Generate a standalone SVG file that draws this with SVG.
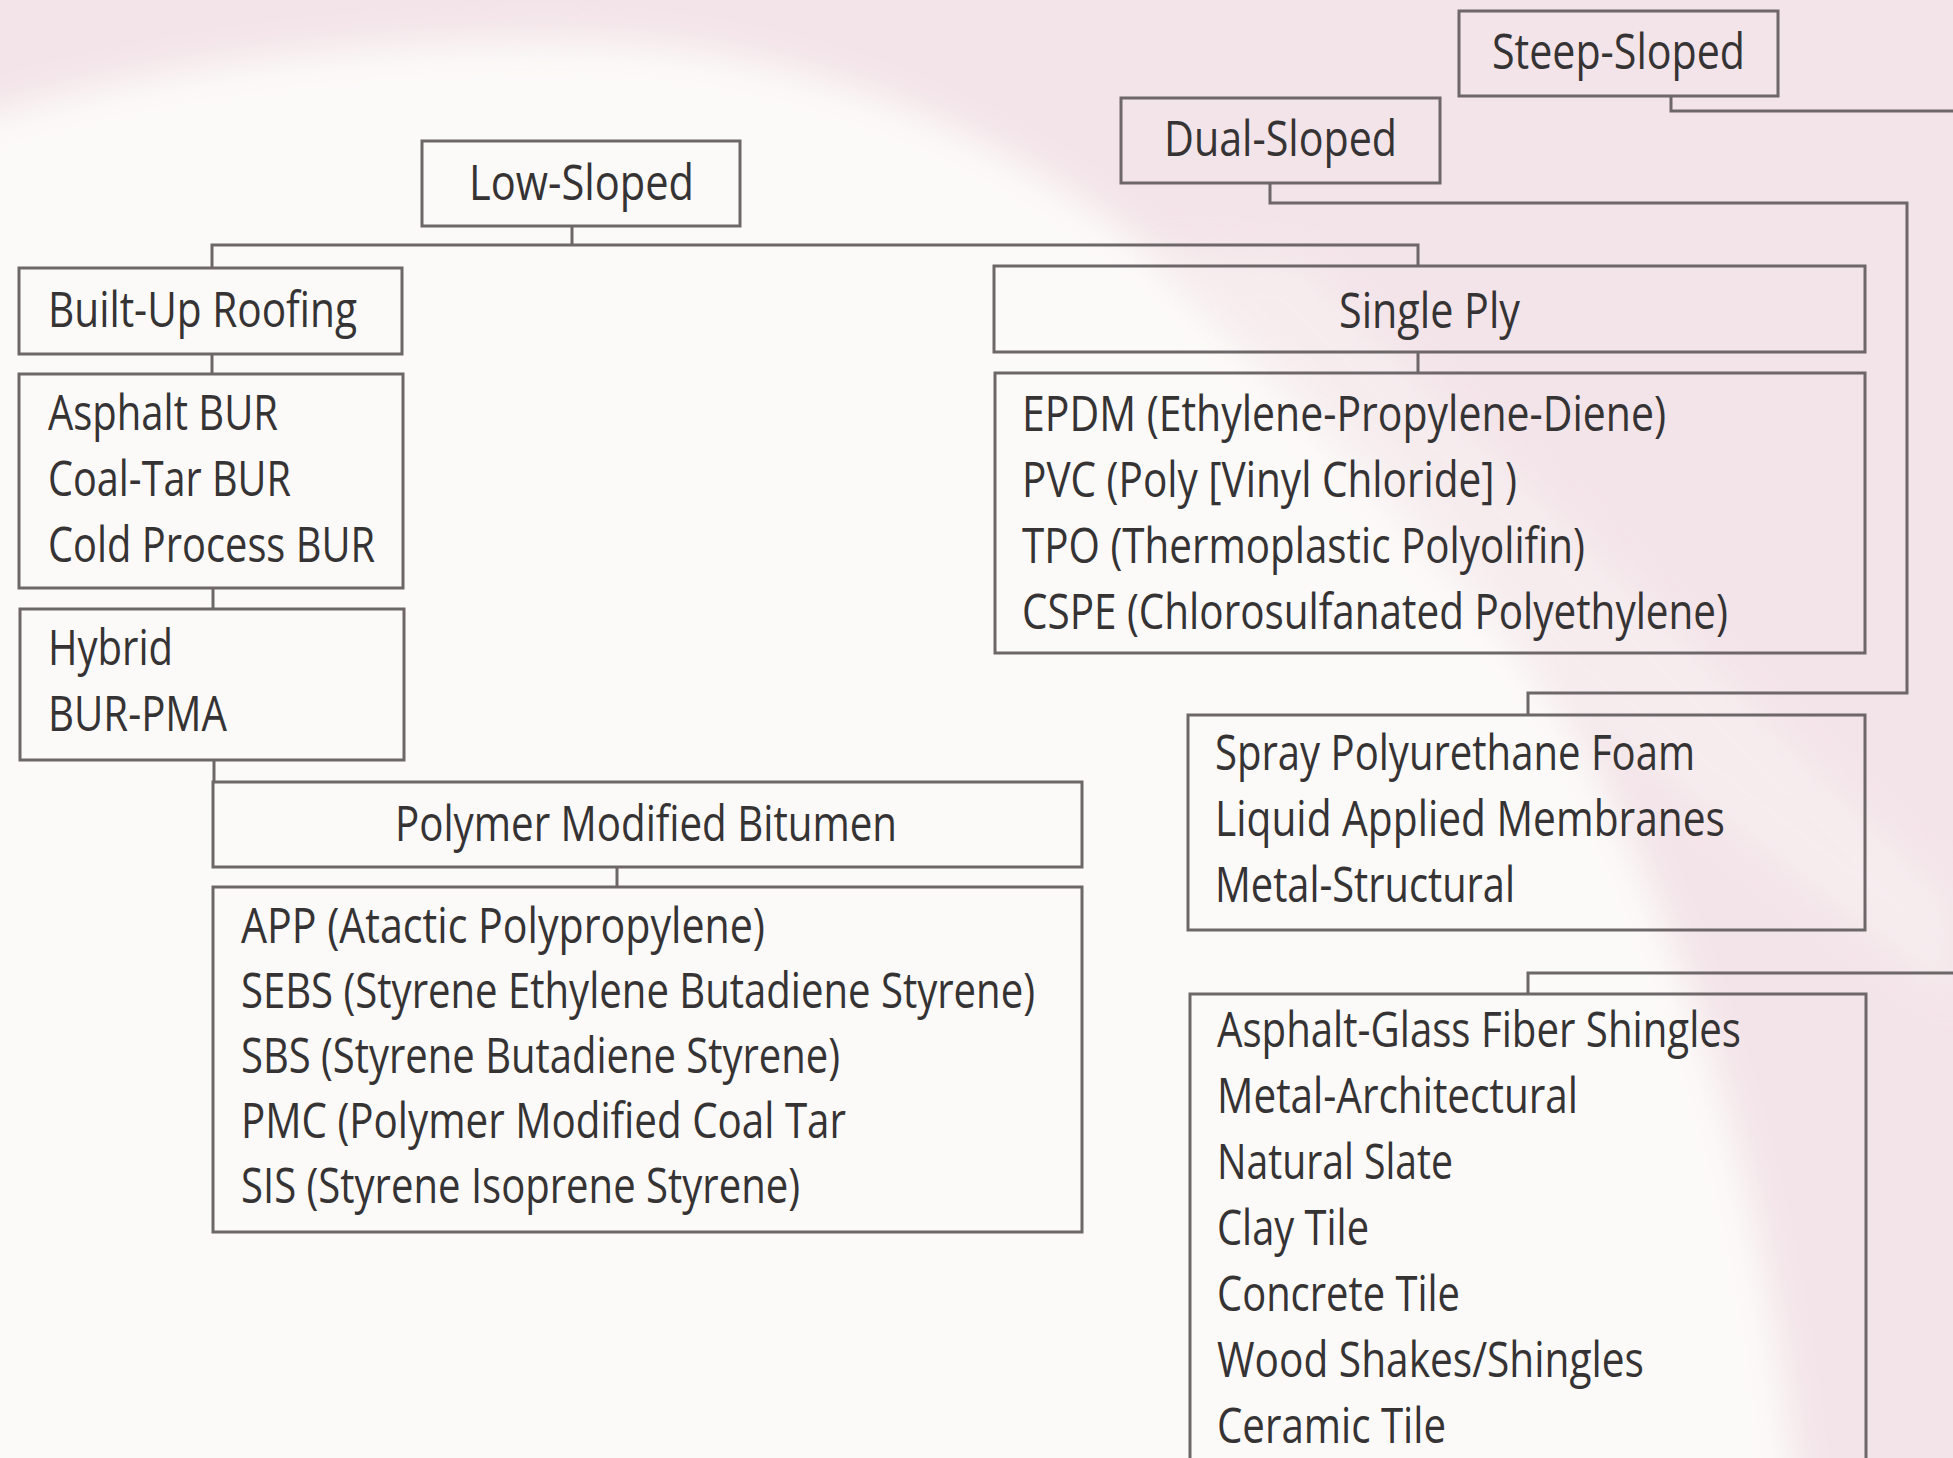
<svg xmlns="http://www.w3.org/2000/svg" width="1953" height="1458" viewBox="0 0 1953 1458">
  <defs>
    <filter id="soft" x="-10%" y="-10%" width="120%" height="120%">
      <feGaussianBlur stdDeviation="18"/>
    </filter>
    <style>
      .box { fill: none; stroke: #6d6769; stroke-width: 3; }
      .conn { fill: none; stroke: #6d6769; stroke-width: 3; }
      .t { font-family: "Open Sans", "Noto Sans", "Liberation Sans", sans-serif; font-size: 50px; fill: #363334; }
    </style>
  </defs>

  <!-- background -->
  <rect x="0" y="0" width="1953" height="1458" fill="#f3e4e9"/>
  <path filter="url(#soft)" fill="#fcfaf8" d="M-60,130 C 150,60 380,38 560,40 C 800,42 1000,130 1150,250 C 1330,400 1480,560 1560,700 C 1700,960 1770,1200 1800,1520 L -60,1520 Z"/>
  <path filter="url(#soft)" fill="#f8f0f1" opacity="0.7" d="M1150,250 L1300,260 L1953,900 L1953,1000 L1560,700 Z"/>

  <!-- connectors -->
  <g id="connectors">
    <path class="conn" d="M572,226 V245"/>
    <path class="conn" d="M212,268 V245 H1418 V266"/>
    <path class="conn" d="M212,354 V374"/>
    <path class="conn" d="M213,588 V609"/>
    <path class="conn" d="M214,760 V782"/>
    <path class="conn" d="M617,867 V887"/>
    <path class="conn" d="M1418,352 V373"/>
    <path class="conn" d="M1270,183 V203 H1907 V693 H1528 V715"/>
    <path class="conn" d="M1671,96 V111 H1960"/>
    <path class="conn" d="M1960,973 H1528 V994"/>
  </g>

  <!-- nodes -->
  <g id="steep-sloped">
    <rect class="box" x="1459" y="11" width="319" height="85"/>
    <text class="t" x="1492" y="69" textLength="253" lengthAdjust="spacingAndGlyphs">Steep-Sloped</text>
  </g>
  <g id="dual-sloped">
    <rect class="box" x="1121" y="98" width="319" height="85"/>
    <text class="t" x="1164" y="156" textLength="233" lengthAdjust="spacingAndGlyphs">Dual-Sloped</text>
  </g>
  <g id="low-sloped">
    <rect class="box" x="422" y="141" width="318" height="85"/>
    <text class="t" x="469" y="200" textLength="225" lengthAdjust="spacingAndGlyphs">Low-Sloped</text>
  </g>
  <g id="built-up-roofing">
    <rect class="box" x="19" y="268" width="383" height="86"/>
    <text class="t" x="48" y="327" textLength="309" lengthAdjust="spacingAndGlyphs">Built-Up Roofing</text>
  </g>
  <g id="bur-types">
    <rect class="box" x="19" y="374" width="384" height="214"/>
    <text class="t" x="48" y="430" textLength="230" lengthAdjust="spacingAndGlyphs">Asphalt BUR</text>
    <text class="t" x="48" y="496" textLength="243" lengthAdjust="spacingAndGlyphs">Coal-Tar BUR</text>
    <text class="t" x="48" y="562" textLength="327" lengthAdjust="spacingAndGlyphs">Cold Process BUR</text>
  </g>
  <g id="hybrid">
    <rect class="box" x="20" y="609" width="384" height="151"/>
    <text class="t" x="48" y="665" textLength="125" lengthAdjust="spacingAndGlyphs">Hybrid</text>
    <text class="t" x="48" y="731" textLength="179" lengthAdjust="spacingAndGlyphs">BUR-PMA</text>
  </g>
  <g id="polymer-modified-bitumen">
    <rect class="box" x="213" y="782" width="869" height="85"/>
    <text class="t" x="395" y="841" textLength="502" lengthAdjust="spacingAndGlyphs">Polymer Modified Bitumen</text>
  </g>
  <g id="pmb-types">
    <rect class="box" x="213" y="887" width="869" height="345"/>
    <text class="t" x="241" y="943" textLength="524" lengthAdjust="spacingAndGlyphs">APP (Atactic Polypropylene)</text>
    <text class="t" x="241" y="1008" textLength="794" lengthAdjust="spacingAndGlyphs">SEBS (Styrene Ethylene Butadiene Styrene)</text>
    <text class="t" x="241" y="1073" textLength="599" lengthAdjust="spacingAndGlyphs">SBS (Styrene Butadiene Styrene)</text>
    <text class="t" x="241" y="1138" textLength="605" lengthAdjust="spacingAndGlyphs">PMC (Polymer Modified Coal Tar</text>
    <text class="t" x="241" y="1203" textLength="559" lengthAdjust="spacingAndGlyphs">SIS (Styrene Isoprene Styrene)</text>
  </g>
  <g id="single-ply">
    <rect class="box" x="994" y="266" width="871" height="86"/>
    <text class="t" x="1339" y="328" textLength="181" lengthAdjust="spacingAndGlyphs">Single Ply</text>
  </g>
  <g id="single-ply-types">
    <rect class="box" x="995" y="373" width="870" height="280"/>
    <text class="t" x="1022" y="431" textLength="644" lengthAdjust="spacingAndGlyphs">EPDM (Ethylene-Propylene-Diene)</text>
    <text class="t" x="1022" y="497" textLength="495" lengthAdjust="spacingAndGlyphs">PVC (Poly [Vinyl Chloride] )</text>
    <text class="t" x="1022" y="563" textLength="563" lengthAdjust="spacingAndGlyphs">TPO (Thermoplastic Polyolifin)</text>
    <text class="t" x="1022" y="629" textLength="706" lengthAdjust="spacingAndGlyphs">CSPE (Chlorosulfanated Polyethylene)</text>
  </g>
  <g id="dual-sloped-types">
    <rect class="box" x="1188" y="715" width="677" height="215"/>
    <text class="t" x="1215" y="770" textLength="480" lengthAdjust="spacingAndGlyphs">Spray Polyurethane Foam</text>
    <text class="t" x="1215" y="836" textLength="510" lengthAdjust="spacingAndGlyphs">Liquid Applied Membranes</text>
    <text class="t" x="1215" y="902" textLength="300" lengthAdjust="spacingAndGlyphs">Metal-Structural</text>
  </g>
  <g id="steep-sloped-types">
    <rect class="box" x="1190" y="994" width="676" height="490"/>
    <text class="t" x="1217" y="1047" textLength="524" lengthAdjust="spacingAndGlyphs">Asphalt-Glass Fiber Shingles</text>
    <text class="t" x="1217" y="1113" textLength="361" lengthAdjust="spacingAndGlyphs">Metal-Architectural</text>
    <text class="t" x="1217" y="1179" textLength="236" lengthAdjust="spacingAndGlyphs">Natural Slate</text>
    <text class="t" x="1217" y="1245" textLength="152" lengthAdjust="spacingAndGlyphs">Clay Tile</text>
    <text class="t" x="1217" y="1311" textLength="243" lengthAdjust="spacingAndGlyphs">Concrete Tile</text>
    <text class="t" x="1217" y="1377" textLength="427" lengthAdjust="spacingAndGlyphs">Wood Shakes/Shingles</text>
    <text class="t" x="1217" y="1443" textLength="229" lengthAdjust="spacingAndGlyphs">Ceramic Tile</text>
  </g>
</svg>
